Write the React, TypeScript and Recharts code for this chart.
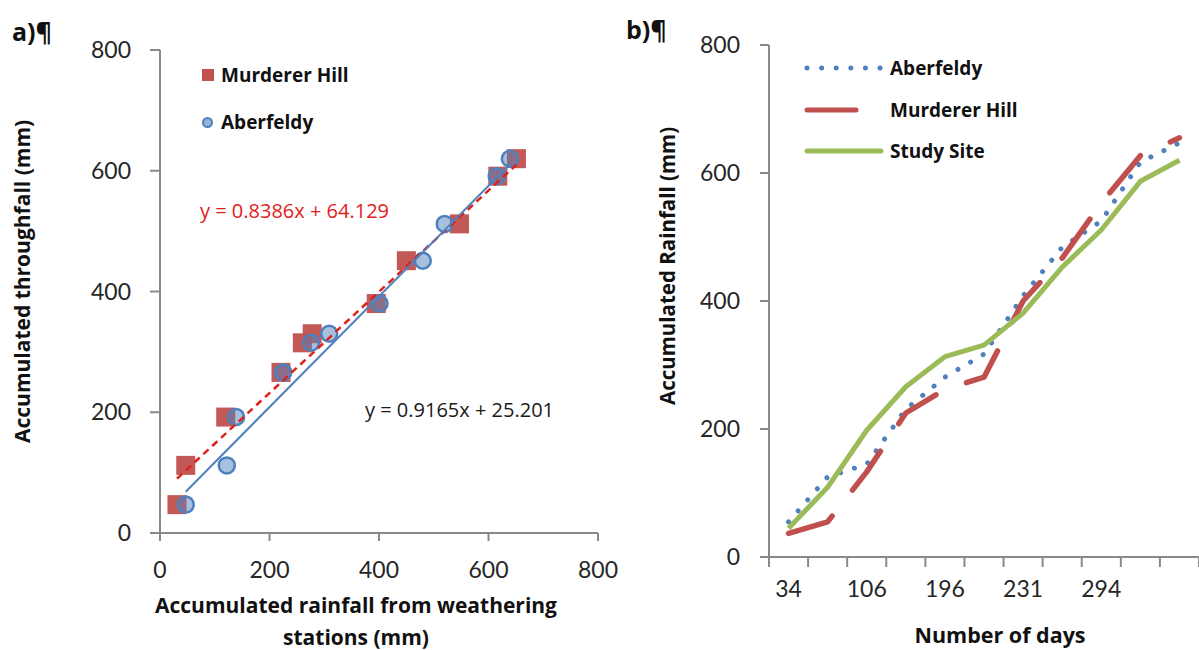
import React from "react";
import {
  ScatterChart,
  Scatter,
  LineChart,
  Line,
  XAxis,
  YAxis,
  Legend,
} from "recharts";

// a) throughfall against rainfall at the two weather stations
const murdererRain = [31, 47, 120, 221, 260, 278, 395, 450, 547, 617, 651];
const aberfeldyRain = [47, 122, 139, 225, 276, 309, 401, 480, 520, 615, 639];
const throughfall = [47, 112, 192, 266, 315, 330, 380, 451, 512, 591, 620];
const murdererFit = [0.8386, 64.129]; // slope, intercept
const aberfeldyFit = [0.9165, 25.201];
const axisTicks = [0, 200, 400, 600, 800];

// b) accumulated rainfall over time
const days = ["34", "", "106", "", "196", "", "231", "", "294", "", ""];
const aberfeldyAcc = [55, 125, 145, 231, 281, 317, 408, 484, 525, 617, 647];
const murdererAcc = [37, 55, 133, 225, 262, 281, 400, 467, 553, 627, 655];
const studySiteAcc = [45, 109, 198, 266, 313, 331, 381, 453, 511, 587, 620];

const RED = "#C0504D";
const BLUE = "#4F81BD";
const GREEN = "#9BBB59";
const AXIS = "#898989";
const TICK_FONT = "Lato, 'Open Sans', sans-serif";
const FONT = "'Open Sans', Lato, sans-serif";

const fitLine = (xs: number[], fit: number[]) => {
  const lo = Math.min(...xs);
  const hi = Math.max(...xs);
  return [
    { x: lo, y: fit[0] * lo + fit[1] },
    { x: hi, y: fit[0] * hi + fit[1] },
  ];
};

const murdererPts = murdererRain.map((x, i) => ({ x, y: throughfall[i] }));
const aberfeldyPts = aberfeldyRain.map((x, i) => ({ x, y: throughfall[i] }));

const lineData = days.map((d, i) => ({
  idx: i,
  aberfeldy: aberfeldyAcc[i],
  murderer: murdererAcc[i],
  study: studySiteAcc[i],
}));

const SquareMark = (props: any) => (
  <rect x={props.cx - 9.5} y={props.cy - 9.5} width={19} height={19} fill={RED} fillOpacity={0.95} />
);
const CircleMark = (props: any) => (
  <circle cx={props.cx} cy={props.cy} r={8} fill={BLUE} fillOpacity={0.5} stroke={BLUE} strokeWidth={2.5} />
);
const NoMark = () => <g />;

const tickStyle = { fontSize: 23, fill: "#262626", fontFamily: TICK_FONT };
const legendText: React.CSSProperties = {
  fontFamily: FONT,
  fontWeight: 700,
  fontSize: 19,
  color: "#111",
  whiteSpace: "nowrap",
};

const LeftLegend = () => (
  <div style={{ position: "relative", width: 200, height: 80 }}>
    <div style={{ position: "absolute", left: 2, top: 9, width: 12, height: 12, background: RED }} />
    <div style={{ ...legendText, position: "absolute", left: 21, top: 2, lineHeight: "26px" }}>Murderer Hill</div>
    <div
      style={{
        position: "absolute",
        left: 2,
        top: 57,
        width: 7,
        height: 7,
        borderRadius: "50%",
        background: "#95B3D7",
        border: `2px solid ${BLUE}`,
      }}
    />
    <div style={{ ...legendText, position: "absolute", left: 21, top: 49, lineHeight: "26px" }}>Aberfeldy</div>
  </div>
);

const RightLegend = () => {
  const rows = [
    { name: "Aberfeldy", color: BLUE, dash: "0.01 14.6", len: 74 },
    { name: "Murderer Hill", color: RED, dash: "", len: 49 },
    { name: "Study Site", color: GREEN, dash: "", len: 74 },
  ];
  return (
    <div style={{ position: "relative", width: 260, height: 110 }}>
      {rows.map((r, i) => (
        <div key={r.name} style={{ position: "absolute", left: 0, top: i * 41.5, height: 26 }}>
          <svg width={84} height={26} style={{ position: "absolute", left: 0, top: 0 }}>
            <line
              x1={4}
              x2={4 + r.len}
              y1={13}
              y2={13}
              stroke={r.color}
              strokeWidth={5}
              strokeLinecap="round"
              strokeDasharray={r.dash || undefined}
            />
          </svg>
          <div style={{ ...legendText, position: "absolute", left: 87, top: 0, lineHeight: "26px" }}>{r.name}</div>
        </div>
      ))}
    </div>
  );
};

const BAND = 430 / days.length;

const DayTick = (props: any) => {
  const { x, y, payload, index } = props;
  const half = BAND / 2;
  return (
    <g>
      <line x1={x - half} x2={x - half} y1={y} y2={y + 10} stroke={AXIS} strokeWidth={2} />
      {index === days.length - 1 && (
        <line x1={x + half} x2={x + half} y1={y} y2={y + 10} stroke={AXIS} strokeWidth={2} />
      )}
      <text x={x} y={y + 40} textAnchor="middle" fontSize={23} fill="#262626" fontFamily={TICK_FONT}>
        {days[payload.value]}
      </text>
    </g>
  );
};

export default function App() {
  const title: React.CSSProperties = { fontFamily: FONT, fontWeight: 700 };
  return (
    <div
      style={{
        position: "fixed",
        left: 0,
        top: 0,
        width: 1199,
        height: 650,
        background: "#fff",
        fontFamily: FONT,
        overflow: "hidden",
      }}
    >
      <div style={{ position: "absolute", left: 0, top: 0 }}>
        <ScatterChart width={620} height={650} margin={{ top: 50, right: 22, bottom: 77, left: 100 }}>
          <XAxis
            type="number"
            dataKey="x"
            domain={[0, 800]}
            ticks={axisTicks}
            height={40}
            tick={tickStyle}
            tickSize={8}
            tickMargin={21}
            axisLine={{ stroke: AXIS, strokeWidth: 2 }}
            tickLine={{ stroke: AXIS, strokeWidth: 2 }}
          />
          <YAxis
            type="number"
            dataKey="y"
            domain={[0, 800]}
            ticks={axisTicks}
            width={60}
            tick={tickStyle}
            tickSize={10}
            tickMargin={19}
            axisLine={{ stroke: AXIS, strokeWidth: 2 }}
            tickLine={{ stroke: AXIS, strokeWidth: 2 }}
          />
          <Legend
            layout="vertical"
            align="center"
            verticalAlign="middle"
            wrapperStyle={{ left: 200, top: 60, width: 200 }}
            content={() => <LeftLegend />}
          />
          <Scatter name="Murderer Hill" data={murdererPts} shape={SquareMark} isAnimationActive={false} />
          <Scatter name="Aberfeldy" data={aberfeldyPts} shape={CircleMark} isAnimationActive={false} />
          <Scatter
            data={fitLine(murdererRain, murdererFit)}
            shape={NoMark}
            line={{ stroke: "#E0201B", strokeWidth: 2.5, strokeDasharray: "7 5" }}
            isAnimationActive={false}
          />
          <Scatter
            data={fitLine(aberfeldyRain, aberfeldyFit)}
            shape={NoMark}
            line={{ stroke: BLUE, strokeWidth: 2 }}
            isAnimationActive={false}
          />
        </ScatterChart>
      </div>

      <div style={{ position: "absolute", left: 600, top: 0 }}>
        <LineChart width={599} height={650} data={lineData} margin={{ top: 45, right: 0, bottom: 53, left: 109 }}>
          <XAxis
            dataKey="idx"
            type="category"
            interval={0}
            height={40}
            padding={{ left: BAND / 2, right: BAND / 2 }}
            tickSize={0}
            tickMargin={0}
            tickLine={false}
            tick={<DayTick />}
            axisLine={{ stroke: AXIS, strokeWidth: 2 }}
          />
          <YAxis
            domain={[0, 800]}
            ticks={axisTicks}
            width={60}
            tick={tickStyle}
            tickSize={9}
            tickMargin={20}
            axisLine={{ stroke: AXIS, strokeWidth: 2 }}
            tickLine={{ stroke: AXIS, strokeWidth: 2 }}
          />
          <Legend
            layout="vertical"
            align="center"
            verticalAlign="middle"
            wrapperStyle={{ left: 203, top: 55, width: 260 }}
            content={() => <RightLegend />}
          />
          <Line
            dataKey="aberfeldy"
            stroke={BLUE}
            strokeWidth={5}
            strokeDasharray="0.01 14.6"
            strokeLinecap="round"
            dot={false}
            isAnimationActive={false}
          />
          <Line
            dataKey="murderer"
            stroke={RED}
            strokeWidth={5.5}
            strokeDasharray="48 33"
            strokeLinecap="round"
            strokeLinejoin="round"
            dot={false}
            isAnimationActive={false}
          />
          <Line
            dataKey="study"
            stroke={GREEN}
            strokeWidth={5}
            strokeLinejoin="round"
            dot={false}
            isAnimationActive={false}
          />
        </LineChart>
      </div>

      <svg width={1199} height={650} style={{ position: "absolute", left: 0, top: 0, pointerEvents: "none" }}>
        <text x={12} y={41} fontSize={25} style={title} fill="#111">a)¶</text>
        <text x={626} y={39} fontSize={25} style={title} fill="#111">b)¶</text>
        <text transform="translate(30, 443) rotate(-90)" fontSize={21} style={title} fill="#111">
          Accumulated throughfall (mm)
        </text>
        <text x={356} y={613} textAnchor="middle" fontSize={21} style={title} fill="#111">
          Accumulated rainfall from weathering
        </text>
        <text x={356} y={645} textAnchor="middle" fontSize={21} style={title} fill="#111">
          stations (mm)
        </text>
        <text x={200} y={218} fontSize={20} fill="#E0201B" fontFamily={FONT}>
          y = 0.8386x + 64.129
        </text>
        <text x={365} y={417} fontSize={20} fill="#1a1a1a" fontFamily={FONT}>
          y = 0.9165x + 25.201
        </text>
        <text transform="translate(675, 405) rotate(-90)" fontSize={20.5} style={title} fill="#111">
          Accumulated Rainfall (mm)
        </text>
        <text x={1000} y={643} textAnchor="middle" fontSize={21.5} style={title} fill="#111">
          Number of days
        </text>
      </svg>
    </div>
  );
}
